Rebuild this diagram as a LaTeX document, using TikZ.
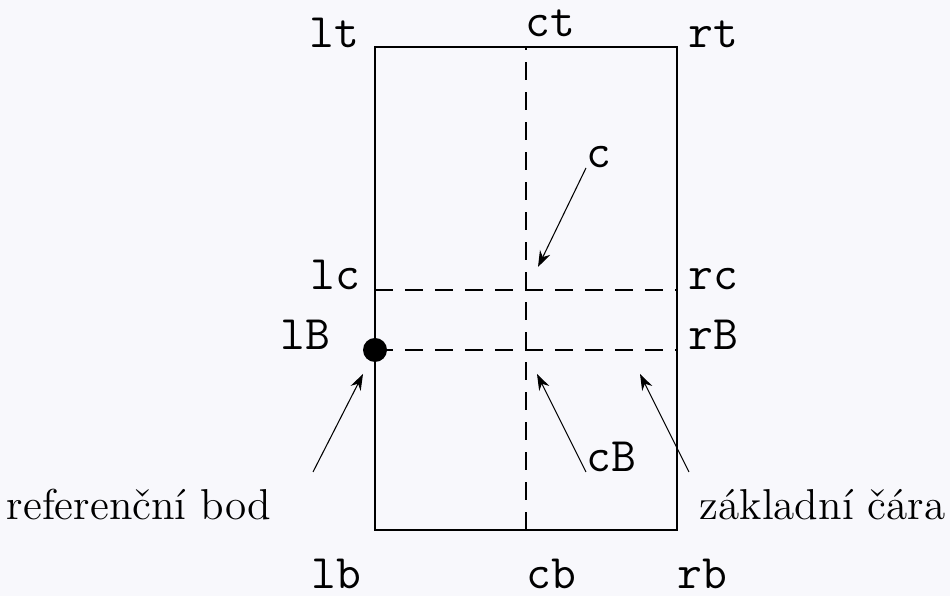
\documentclass[tikz,border=0pt]{standalone}
\usepackage{fontspec}
\usetikzlibrary{arrows.meta}
\definecolor{bgcol}{RGB}{248,248,252}

\begin{document}
\begin{tikzpicture}[
    lbl/.style={font=\ttfamily\fontsize{13.7}{16}\selectfont,inner sep=0pt},
    txt/.style={font=\fontsize{12.3}{14}\selectfont,inner sep=0pt},
    dashline/.style={dash pattern=on 1.8mm off 1.2mm},
    >={Stealth[length=4.6pt,width=3.2pt]}]
\fill[bgcol] (0,0) rectangle (9.5,5.96);
\useasboundingbox (0,0) rectangle (9.5,5.96);
% points of the box
\coordinate (lt) at (3.75,5.49);
\coordinate (ct) at (5.26,5.49);
\coordinate (rt) at (6.77,5.49);
\coordinate (lc) at (3.75,3.06);
\coordinate (rc) at (6.77,3.06);
\coordinate (lB) at (3.75,2.46);
\coordinate (rB) at (6.77,2.46);
\coordinate (lb) at (3.75,0.66);
\coordinate (cb) at (5.26,0.66);
\coordinate (rb) at (6.77,0.66);
\coordinate (c-tip) at (5.38,3.29);
\coordinate (cB-tip) at (5.37,2.22);
\coordinate (zc-from) at (6.89,1.24);
\coordinate (zc-tip) at (6.40,2.22);
\coordinate (rp-from) at (3.13,1.24);
\coordinate (rp-tip) at (3.63,2.22);
\begin{scope}[line width=0.3pt]
\draw (lb) -- (rb) -- (rt) -- (lt) -- cycle;
\draw[dashline] (cb) -- (ct);
\draw[dashline] (lc) -- (rc);
\draw[dashline] (lB) -- (rB);
\end{scope}
\fill (lB) circle (1.2mm);
% labels
\node[lbl,anchor=base east] (n-lt) at (3.60,5.48) {lt};
\node[lbl,anchor=base west] (n-ct) at (5.25,5.59) {ct};
\node[lbl,anchor=base west] (n-rt) at (6.88,5.48) {rt};
\node[lbl,anchor=base east] (n-lc) at (3.61,3.06) {lc};
\node[lbl,anchor=base west] (n-rc) at (6.88,3.06) {rc};
\node[lbl,anchor=base east] (n-lB) at (3.31,2.46) {lB};
\node[lbl,anchor=base west] (n-rB) at (6.88,2.46) {rB};
\node[lbl,anchor=base east] (n-lb) at (3.62,0.07) {lb};
\node[lbl,anchor=base west] (n-cb) at (5.26,0.07) {cb};
\node[lbl,anchor=base west] (n-rb) at (6.77,0.07) {rb};
\node[lbl,anchor=base west] (n-c) at (5.86,4.28) {c};
\node[lbl,anchor=base west] (n-cB) at (5.86,1.24) {cB};
\node[txt,anchor=base west] (n-zc) at (6.99,0.76) {základní čára};
\node[txt,anchor=base east] (n-rp) at (2.72,0.76) {referenční bod};
% arrows
\draw[->,line width=0.3pt] (n-c.base west) -- (c-tip);
\draw[->,line width=0.3pt] (n-cB.base west) -- (cB-tip);
\draw[->,line width=0.3pt] (zc-from) -- (zc-tip);
\draw[->,line width=0.3pt] (rp-from) -- (rp-tip);
\end{tikzpicture}
\end{document}
